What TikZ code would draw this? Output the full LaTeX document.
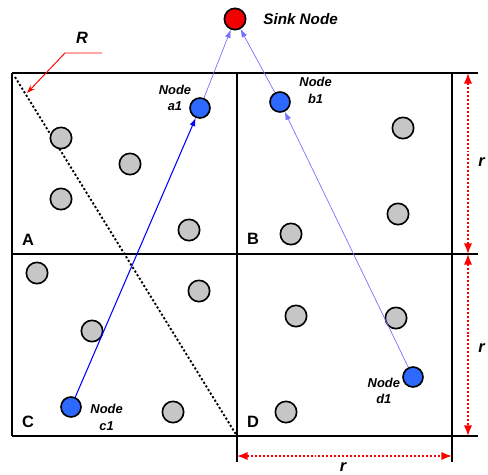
\documentclass[tikz,border=0pt]{standalone}
\usepackage{fontspec}
\setmainfont{Liberation Sans}
\usetikzlibrary{arrows.meta,positioning}
\definecolor{headblue}{RGB}{45,105,255}
\definecolor{sinkred}{RGB}{240,0,0}

\begin{document}
\begin{tikzpicture}[x=0.03cm, y=-0.03cm, thick,
	sensor node/.style={circle, draw, line width=1.4pt, fill=gray!45, minimum size=0.64cm, inner sep=0pt},
	head node/.style={sensor node, fill=headblue, minimum size=0.6cm},
	sink node/.style={sensor node, fill=sinkred, minimum size=0.64cm},
	name text/.style={font=\fontsize{11}{14}\selectfont\bfseries\itshape, align=center, inner sep=0pt},
	cell text/.style={font=\fontsize{14}{16}\selectfont\bfseries, inner sep=0pt},
	grid line/.style={line width=1.4pt},
	dim line/.style={red, line width=1.3pt, dash pattern=on 1.7pt off 1.7pt, {Latex[length=9pt,width=7pt]}-{Latex[length=9pt,width=7pt]}},
	hop/.style={blue!55, line width=0.6pt, -{Latex[length=7pt,width=5pt]}}]
	\useasboundingbox (0,0) rectangle (488,474);

	% grid of the four cells
	\draw[grid line] (12,73) -- (478,73);
	\draw[grid line] (12,254) -- (478,254);
	\draw[grid line] (12,436) -- (478,436);
	\draw[grid line] (12,73) -- (12,436);
	\draw[grid line] (237,73) -- (237,462);
	\draw[grid line] (452,73) -- (452,462);
	\node[cell text] (cA) at (28,240) {A};
	\node[cell text] (cB) at (253,239) {B};
	\node[cell text] (cC) at (28,422) {C};
	\node[cell text] (cD) at (253,422) {D};

	% range line
	\coordinate (R1) at (15,77);
	\coordinate (R2) at (237,436);
	\draw[line width=1.6pt, dash pattern=on 1.8pt off 1.8pt] (R1) -- (R2);
	\node[font=\fontsize{14}{16}\selectfont\bfseries\itshape] (R) at (82,38) {R};
	\coordinate (Rtail) at (102,53);
	\coordinate (Rbend) at (65,53);
	\coordinate (Rtip) at (27,93);
	\draw[red, line width=0.8pt, -{Stealth[length=7pt,width=5pt]}] (Rtail) -- (Rbend) -- (Rtip);

	% ordinary sensors
	\foreach \x/\y [count=\i] in {61/138, 130/164, 61/199, 189/230, 403/128, 398/214, 291/234,
		37/273, 199/291, 92/331, 173/412, 296/316, 396/318, 286/412}
		\node[sensor node] (s\i) at (\x,\y) {};

	% cluster heads and sink
	\node[sink node] (sink) at (235,19) {};
	\node[head node] (a1) at (200,108) {};
	\node[head node] (b1) at (280,102) {};
	\node[head node] (c1) at (71,407) {};
	\node[head node] (d1) at (413,377) {};
	\node[name text, font=\fontsize{13}{15}\selectfont\bfseries\itshape, right=14pt of sink] (sinkname) {Sink Node};
	\node[name text, left=-2pt of a1, yshift=8.5pt] (a1name) {Node\\a1};
	\node[name text, right=7pt of b1, yshift=10pt] (b1name) {Node\\b1};
	\node[name text, right=7pt of c1, yshift=-9pt] (c1name) {Node\\c1};
	\node[name text, left=1.5pt of d1, yshift=-12pt] (d1name) {Node\\d1};

	% routes to the sink
	\draw[hop, blue, line width=0.9pt] (c1) -- (a1);
	\draw[hop] (a1) -- (sink);
	\draw[hop] (d1) -- (b1);
	\draw[hop] (b1) -- (sink);

	% cell size
	\coordinate (v1) at (468,73);
	\coordinate (v2) at (468,254);
	\coordinate (v3) at (468,436);
	\coordinate (h1) at (237,456);
	\coordinate (h2) at (452,456);
	\draw[dim line] (v1) -- (v2);
	\draw[dim line] (v2) -- (v3);
	\draw[dim line] (h1) -- (h2);
	\node[cell text, font=\fontsize{14}{16}\selectfont\bfseries\itshape, anchor=west] (rv1) at (478,162) {r};
	\node[cell text, font=\fontsize{14}{16}\selectfont\bfseries\itshape, anchor=west] (rv2) at (478,348) {r};
	\node[cell text, font=\fontsize{14}{16}\selectfont\bfseries\itshape] (rh) at (343,467) {r};
\end{tikzpicture}
\end{document}
